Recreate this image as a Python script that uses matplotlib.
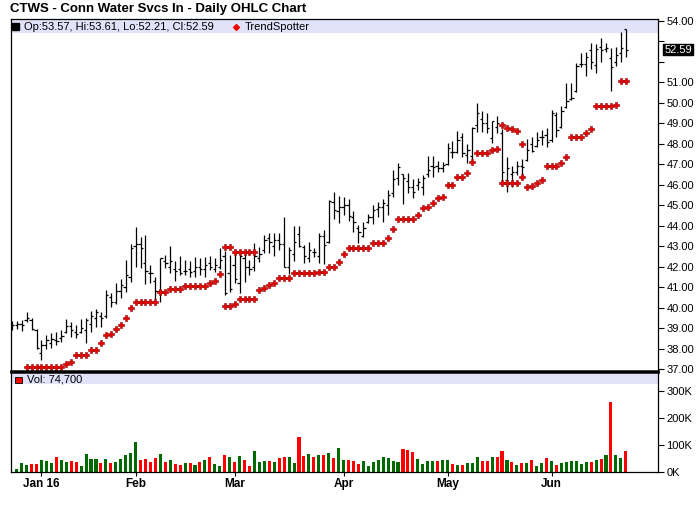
import matplotlib
matplotlib.use("Agg")
import matplotlib.pyplot as plt
from matplotlib.patches import Rectangle
from matplotlib.lines import Line2D
from matplotlib.ticker import FuncFormatter
import numpy as np
import pandas as pd

plt.rcParams['font.family'] = ['Liberation Sans', 'DejaVu Sans']

nan = float('nan')

# trading days Dec 23 2015 .. Jun 22 2016
holidays = ['2015-12-25', '2016-01-01', '2016-01-18', '2016-02-15',
            '2016-03-25', '2016-05-30']
dates = pd.bdate_range('2015-12-23', '2016-06-22')
dates = dates[~dates.isin(pd.to_datetime(holidays))]

opens = [39.10, 39.15, 39.20, 39.40, 39.40, 38.90, 37.80, 38.20, 38.30, 38.40,
         38.50, 38.80, 39.10, 38.80, 38.80, 38.90, 39.20, 39.50, 39.60, 39.60,
         40.50, 40.30, 40.80, 41.00, 41.50, 43.00, 43.10, 42.20, 41.70, 41.30,
         40.80, 42.30, 42.00, 41.90, 41.90, 41.80, 41.90, 41.80, 42.00, 41.90,
         42.20, 41.87, 42.00, 42.50, 41.70, 42.10, 41.20, 42.40, 42.00, 41.97,
         42.40, 42.80, 43.40, 43.00, 43.30, 43.10, 42.00, 42.60, 43.60, 42.98,
         42.40, 42.70, 42.50, 43.50, 43.20, 45.14, 44.70, 44.90, 45.00, 44.40,
         43.90, 43.50, 44.20, 44.40, 44.80, 44.90, 45.00, 45.60, 46.30, 46.50,
         46.20, 45.90, 46.00, 45.90, 46.50, 46.90, 46.90, 46.80, 47.00, 47.60,
         47.60, 48.30, 47.45, 47.40, 48.90, 49.20, 49.00, 48.26, 48.80, 48.50,
         46.23, 46.50, 46.60, 46.90, 47.20, 48.00, 47.90, 48.30, 48.40, 48.18,
         49.40, 48.83, 49.80, 50.20, 50.57, 51.90, 51.90, 52.57, 51.84, 52.70,
         52.60, 52.20, 52.00, 52.40, 53.57]

highs = [39.37, 39.35, 39.40, 39.79, 39.48, 38.96, 38.42, 38.67, 38.75, 38.83,
         38.91, 39.43, 39.32, 39.16, 39.45, 39.48, 39.84, 39.94, 39.80, 40.86,
         40.70, 41.19, 41.40, 42.33, 43.09, 43.94, 43.43, 43.55, 42.08, 41.51,
         42.44, 42.57, 43.01, 42.28, 42.52, 42.33, 42.30, 42.49, 42.41, 42.49,
         42.54, 42.44, 42.90, 42.78, 42.57, 42.73, 42.73, 42.65, 42.33, 43.14,
         42.98, 43.55, 43.63, 43.66, 43.66, 44.41, 42.98, 43.99, 43.99, 43.06,
         43.22, 42.90, 43.63, 43.79, 45.25, 45.66, 45.45, 45.38, 45.30, 44.72,
         44.03, 44.16, 44.57, 45.01, 45.17, 45.29, 45.74, 46.72, 47.07, 46.52,
         46.59, 46.26, 46.34, 46.47, 47.40, 47.40, 47.16, 47.12, 48.02, 48.13,
         48.62, 48.54, 47.97, 48.83, 50.00, 49.60, 49.51, 49.11, 49.35, 48.70,
         47.33, 46.91, 47.16, 47.24, 48.21, 48.31, 48.59, 48.67, 48.75, 49.64,
         49.53, 49.85, 50.94, 50.94, 51.92, 52.41, 52.49, 52.90, 52.85, 53.14,
         52.90, 52.65, 52.73, 53.43, 53.61]

lows = [38.91, 38.95, 38.88, 39.32, 38.91, 37.97, 37.45, 37.97, 38.02, 38.18,
        38.34, 38.75, 38.59, 38.51, 38.75, 38.26, 38.83, 39.07, 39.04, 39.48,
        40.05, 40.16, 40.46, 40.75, 41.27, 42.00, 41.92, 41.16, 41.19, 40.42,
        40.30, 41.92, 41.68, 41.30, 41.60, 41.60, 41.51, 41.51, 41.60, 41.51,
        41.84, 41.76, 41.87, 40.62, 40.78, 41.19, 40.73, 41.27, 41.60, 41.81,
        42.25, 42.65, 42.68, 42.52, 42.81, 41.97, 41.64, 42.29, 42.98, 42.16,
        42.25, 42.46, 42.16, 42.13, 43.14, 44.31, 44.12, 44.52, 44.25, 43.68,
        43.14, 43.43, 44.15, 44.07, 44.44, 44.20, 44.52, 45.38, 45.98, 45.06,
        45.58, 45.34, 45.74, 45.50, 46.39, 46.39, 46.64, 46.64, 46.96, 47.29,
        47.53, 47.37, 47.07, 47.24, 48.59, 48.59, 48.50, 48.02, 48.50, 46.15,
        45.66, 45.90, 46.47, 46.39, 47.16, 47.61, 47.85, 47.94, 47.85, 48.07,
        48.34, 48.78, 49.73, 50.13, 50.50, 51.76, 51.32, 51.64, 51.43, 51.97,
        52.49, 50.57, 51.81, 52.00, 52.21]

closes = [39.15, 39.20, 39.17, 39.50, 38.95, 38.05, 38.20, 38.40, 38.45, 38.35,
          38.60, 39.10, 38.90, 38.70, 39.00, 39.40, 39.60, 39.80, 39.50, 40.60,
          40.30, 40.80, 41.10, 41.60, 42.90, 43.10, 42.90, 41.80, 41.70, 40.80,
          42.40, 42.20, 42.30, 41.80, 41.70, 41.80, 41.75, 42.00, 41.90, 42.10,
          42.00, 42.10, 42.33, 40.70, 40.90, 41.40, 42.50, 42.00, 41.90, 42.50,
          42.60, 43.30, 43.20, 43.30, 43.10, 42.00, 42.80, 43.20, 43.00, 42.50,
          42.80, 42.70, 43.50, 43.06, 45.20, 44.77, 44.90, 45.00, 44.47, 44.16,
          43.71, 43.90, 44.44, 44.77, 44.93, 45.12, 45.50, 46.26, 46.85, 46.31,
          45.90, 45.66, 46.15, 46.30, 46.72, 46.85, 46.80, 46.96, 47.77, 47.60,
          48.20, 47.56, 47.70, 48.75, 49.48, 49.03, 48.78, 49.10, 48.99, 46.63,
          46.80, 46.63, 46.91, 46.85, 47.69, 47.65, 48.18, 48.30, 48.10, 49.50,
          48.67, 49.60, 50.08, 50.25, 51.80, 51.90, 52.25, 52.00, 52.60, 52.55,
          52.65, 51.76, 52.33, 52.65, 52.59]

# TrendSpotter dots below and above price
trend_lo = [nan, nan, nan, 37.09, 37.09, 37.09, 37.09, 37.09, 37.09, 37.09,
            37.09, 37.25, 37.33, 37.68, 37.68, 37.68, 37.94, 37.94, 38.26, 38.65,
            38.70, 38.95, 39.14, 39.50, 39.97, 40.26, 40.26, 40.26, 40.26, 40.26,
            40.75, 40.75, 40.90, 40.90, 40.90, 41.04, 41.04, 41.04, 41.04, 41.04,
            41.22, 41.30, 41.63, 40.08, 40.08, 40.18, 40.41, 40.41, 40.41, 40.41,
            40.86, 40.94, 41.09, 41.19, 41.43, 41.43, 41.43, 41.68, 41.68, 41.68,
            41.68, 41.68, 41.73, 41.73, 41.97, 41.97, 42.24, 42.60, 42.90, 42.90,
            42.90, 42.90, 42.90, 43.14, 43.14, 43.14, 43.38, 43.82, 44.31, 44.31,
            44.31, 44.31, 44.50, 44.85, 44.90, 45.10, 45.33, 45.38, 45.98, 45.98,
            46.36, 46.36, 46.55, 47.09, 47.53, 47.53, 47.53, 47.69, 47.74, 46.07,
            46.07, 46.07, 46.07, 46.39, 45.90, 45.94, 46.07, 46.23, 46.91, 46.91,
            46.91, 47.04, 47.33, 48.31, 48.31, 48.31, 48.50, 48.70, 49.84, 49.84,
            49.84, 49.84, 49.89, 51.06, 51.06]

trend_hi = [nan] * 43 + [42.94, 42.94, 42.72, 42.72, 42.72, 42.72, 42.72] + \
           [nan] * 49 + [48.91, 48.75, 48.70, 48.62, 47.97] + [nan] * 21

volume_k = [0, 8.7, 31, 23.6, 27.3, 27.3, 42, 38.5, 31, 53,
            42, 34.7, 38.5, 34.7, 19.9, 64.5, 46, 46, 31, 46,
            31, 34.7, 46, 60.8, 68, 109, 42, 46, 34.7, 49.6,
            64.5, 34.7, 42, 27.3, 23.6, 31, 31, 23.6, 34.7, 42,
            53, 27.3, 19.9, 60.8, 53, 34.7, 57, 42, 19.9, 75.7,
            34.7, 38.5, 38.5, 34.7, 49.6, 53, 53, 31, 128, 57,
            64.5, 53, 60.8, 60.8, 68, 49.6, 87, 42, 42, 38.5,
            27.3, 38.5, 19.9, 34.7, 42, 53, 49.6, 38.5, 34.7, 83,
            79, 72, 46, 27.3, 38.5, 38.5, 38.5, 42, 42, 27.3,
            23.6, 23.6, 31, 31, 53, 38.5, 38.5, 53, 53, 75.7,
            42, 34.7, 23.6, 31, 31, 42, 19.9, 31, 49.6, 38.5,
            23.6, 31, 34.7, 38.5, 38.5, 27.3, 34.7, 34.7, 42, 46,
            60.8, 258, 60.8, 49.6, 74.7]

# 1 = green (up) volume bar, 0 = red
up_day = [1, 1, 1, 1, 0, 0, 1, 1, 1, 0,
          1, 1, 0, 0, 1, 1, 1, 1, 0, 1,
          0, 1, 1, 1, 1, 1, 0, 0, 0, 0,
          1, 0, 1, 0, 0, 1, 0, 1, 0, 1,
          0, 1, 1, 0, 1, 0, 1, 0, 0, 1,
          1, 1, 0, 1, 0, 0, 1, 1, 0, 0,
          1, 0, 1, 0, 1, 0, 1, 1, 0, 0,
          0, 1, 1, 1, 1, 1, 1, 1, 1, 0,
          0, 0, 1, 1, 1, 1, 0, 1, 1, 0,
          1, 0, 1, 1, 1, 0, 0, 1, 0, 0,
          1, 0, 1, 0, 1, 0, 1, 1, 0, 1,
          0, 1, 1, 1, 1, 1, 1, 0, 1, 0,
          1, 0, 1, 1, 0]

x = np.arange(len(dates))
o = np.array(opens)
h = np.array(highs)
l = np.array(lows)
c = np.array(closes)
vol = np.array(volume_k) * 1000

W, H = 700, 512
fig = plt.figure(figsize=(W / 100, H / 100), dpi=100)
left, right = 10.5 / W, 658 / W
ax = fig.add_axes([left, 1 - 371 / H, right - left, (371 - 19) / H])
axv = fig.add_axes([left, 1 - 471.5 / H, right - left, (471.5 - 372) / H])

# --- price panel
ax.vlines(x, l, h, color='black', lw=0.9)
ax.hlines(o, x - 0.45, x, color='black', lw=0.9)
ax.hlines(c, x, x + 0.45, color='black', lw=0.9)
ax.plot(x, trend_lo, ls='none', marker='P', ms=4.4, mfc='#ee0000',
        mec='#8b0000', mew=0.4)
ax.plot(x, np.array(trend_hi, dtype=float), ls='none', marker='P', ms=4.4,
        mfc='#ee0000', mec='#8b0000', mew=0.4)

last = c[-1]
ax.set_xlim(-0.26, 130.5)
ax.set_ylim(36.91, 54.08)
ax.yaxis.tick_right()
ax.set_yticks(np.arange(37, 55))
# the boxed last-close label covers the 53.00 label
ax.yaxis.set_major_formatter(
    FuncFormatter(lambda v, p: '' if abs(v - last) < 0.6 else '%.2f' % v))
ax.tick_params(axis='y', labelsize=8, length=4, width=0.8, pad=2)
ax.tick_params(axis='x', bottom=False, labelbottom=False)
for s in ax.spines.values():
    s.set_linewidth(0.9)
ax.spines['bottom'].set_linewidth(1.8)

ax.add_patch(Rectangle((0, 1 - 14 / 352), 1, 14 / 352, transform=ax.transAxes,
                       color='#e2e2fa', zorder=0, lw=0))

ax.annotate('%.2f' % last, xy=(1, last), xycoords=('axes fraction', 'data'),
            xytext=(4.5, 0), textcoords='offset points', va='center', ha='left',
            fontsize=8, color='white',
            bbox=dict(boxstyle='square,pad=0.08', fc='black', ec='black'))

# --- volume panel
colors = ['#006a00' if u else '#ff0000' for u in up_day]
axv.bar(x, vol, width=0.62, color=colors)
axv.set_xlim(-0.26, 130.5)
axv.set_ylim(0, 370000)
axv.yaxis.tick_right()
axv.set_yticks([0, 100000, 200000, 300000])
axv.yaxis.set_major_formatter(FuncFormatter(lambda v, p: '%dK' % (v / 1000)))
axv.tick_params(axis='y', labelsize=8, length=4, width=0.8, pad=2)
for s in axv.spines.values():
    s.set_linewidth(0.9)
axv.spines['top'].set_linewidth(1.8)
axv.add_patch(Rectangle((0, 1 - 12 / 99.5), 1, 12 / 99.5, transform=axv.transAxes,
                        color='#e2e2fa', zorder=0, lw=0))

month_pos, month_lab = [], []
for i in range(1, len(dates)):
    if dates[i].month != dates[i - 1].month:
        month_pos.append(i)
        month_lab.append('Jan 16' if dates[i].month == 1 else dates[i].strftime('%b'))
axv.set_xticks(month_pos)
axv.set_xticklabels(month_lab, fontsize=8.5, fontweight='bold')
axv.tick_params(axis='x', length=3, width=0.8, pad=2)

# --- titles and legends
fig.text(10 / W, 1 - 9 / H, 'CTWS - Conn Water Svcs In - Daily OHLC Chart',
         fontsize=9.5, fontweight='bold', va='center', ha='left')
fig.add_artist(Rectangle((12 / W, 1 - 30 / H), 7 / W, 7 / H,
                         transform=fig.transFigure, fc='black', ec='black'))
fig.text(24 / W, 1 - 26.5 / H,
         'Op:%.2f, Hi:%.2f, Lo:%.2f, Cl:%.2f' % (o[-1], h[-1], l[-1], c[-1]),
         fontsize=8, va='center', ha='left')
fig.add_artist(Line2D([236 / W], [1 - 26.5 / H], marker='D', ms=3, color='#ee0000',
                      transform=fig.transFigure))
fig.text(245 / W, 1 - 26.5 / H, 'TrendSpotter', fontsize=8, va='center', ha='left')

fig.add_artist(Rectangle((15 / W, 1 - 383 / H), 7 / W, 6.5 / H,
                         transform=fig.transFigure, fc='#ff0000', ec='black', lw=0.6))
fig.text(27 / W, 1 - 379.5 / H, 'Vol: {:,}'.format(int(vol[-1])),
         fontsize=8, va='center', ha='left')

fig.savefig('out.png', dpi=100)
